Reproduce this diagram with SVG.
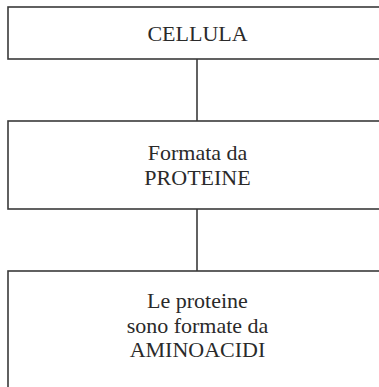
<svg xmlns="http://www.w3.org/2000/svg" width="379" height="387" viewBox="0 0 379 387">
<style>
.box{fill:#fff;stroke:#3a3a3a;stroke-width:1.6}
.lbl{font-family:"Liberation Serif",serif;font-size:22px;fill:#2a2a2a;text-anchor:middle}
.conn{stroke:#3a3a3a;stroke-width:1.6;fill:none}
</style>
<rect width="379" height="387" fill="#fff"/>
<g id="connectors">
<line class="conn" x1="197" y1="59" x2="197" y2="121"/>
<line class="conn" x1="197" y1="209" x2="197" y2="271"/>
</g>
<g id="node-cellula">
<rect class="box" x="8" y="7" width="380" height="52"/>
<text class="lbl" x="197.5" y="41">CELLULA</text>
</g>
<g id="node-proteine">
<rect class="box" x="8" y="121" width="380" height="88"/>
<text class="lbl" x="197.5" y="160">Formata da</text>
<text class="lbl" x="197.5" y="185">PROTEINE</text>
</g>
<g id="node-aminoacidi">
<rect class="box" x="8" y="271" width="380" height="130"/>
<text class="lbl" x="197.5" y="308">Le proteine</text>
<text class="lbl" x="197.5" y="333">sono formate da</text>
<text class="lbl" x="197.5" y="357">AMINOACIDI</text>
</g>
</svg>
